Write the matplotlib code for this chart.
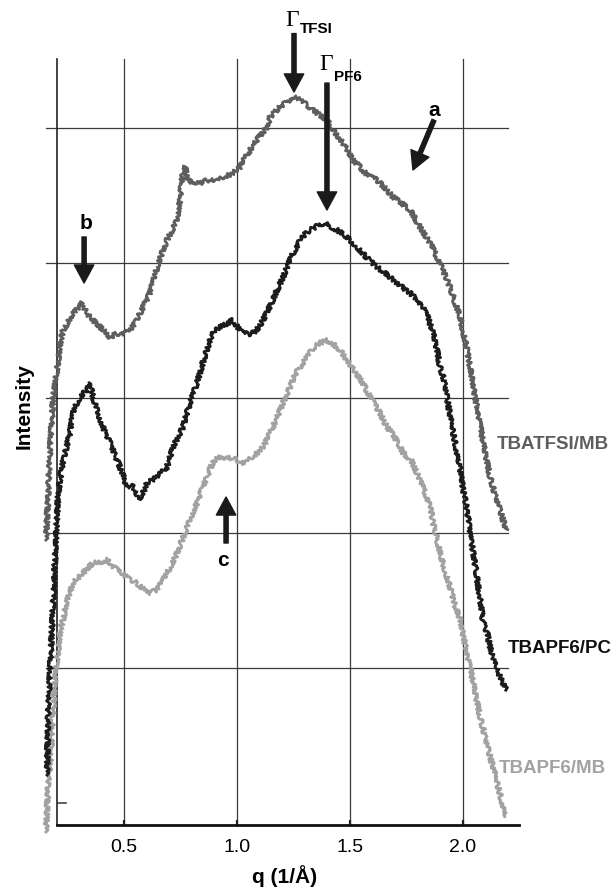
import numpy as np
import matplotlib.pyplot as plt

# ---------- data (intensity in grid units) ----------
q_tfsi_mb = [0.154, 0.163, 0.172, 0.185, 0.203, 0.216, 0.230, 0.252, 0.274, 0.296,
             0.314, 0.332, 0.349, 0.371, 0.394, 0.416, 0.438, 0.464, 0.491, 0.509,
             0.527, 0.549, 0.571, 0.593, 0.615, 0.637, 0.651, 0.673, 0.690, 0.713,
             0.735, 0.748, 0.761, 0.770, 0.783, 0.801, 0.819, 0.837, 0.859, 0.881,
             0.912, 0.947, 0.983, 1.014, 1.036, 1.058, 1.094, 1.134, 1.147, 1.169,
             1.191, 1.222, 1.249, 1.280, 1.311, 1.337, 1.368, 1.399, 1.426, 1.470,
             1.515, 1.546, 1.577, 1.621, 1.656, 1.692, 1.723, 1.767, 1.811, 1.856,
             1.900, 1.944, 1.989, 2.020, 2.033, 2.055, 2.078, 2.091, 2.122, 2.144,
             2.166, 2.193]
i_tfsi_mb = [1.948, 2.244, 2.615, 2.985, 3.207, 3.393, 3.504, 3.563, 3.630, 3.667,
             3.704, 3.637, 3.600, 3.563, 3.526, 3.489, 3.452, 3.474, 3.481, 3.481,
             3.504, 3.563, 3.630, 3.704, 3.778, 3.911, 4.000, 4.096, 4.170, 4.244,
             4.319, 4.467, 4.689, 4.711, 4.615, 4.593, 4.600, 4.593, 4.607, 4.615,
             4.615, 4.637, 4.667, 4.711, 4.778, 4.837, 4.926, 5.007, 5.081, 5.119,
             5.156, 5.193, 5.230, 5.207, 5.170, 5.133, 5.096, 5.059, 4.985, 4.889,
             4.763, 4.711, 4.652, 4.615, 4.556, 4.489, 4.452, 4.393, 4.267, 4.148,
             4.000, 3.822, 3.600, 3.356, 3.230, 3.007, 2.800, 2.667, 2.415, 2.281,
             2.170, 2.022]

q_pf6_pc = [0.159, 0.163, 0.172, 0.181, 0.194, 0.208, 0.230, 0.247, 0.261, 0.274,
            0.292, 0.305, 0.323, 0.336, 0.349, 0.363, 0.380, 0.394, 0.416, 0.438,
            0.460, 0.482, 0.500, 0.513, 0.527, 0.540, 0.557, 0.571, 0.589, 0.602,
            0.624, 0.646, 0.668, 0.690, 0.717, 0.739, 0.761, 0.792, 0.823, 0.850,
            0.867, 0.885, 0.903, 0.925, 0.952, 0.983, 1.005, 1.027, 1.049, 1.072,
            1.094, 1.116, 1.138, 1.160, 1.182, 1.204, 1.226, 1.249, 1.280, 1.302,
            1.324, 1.355, 1.382, 1.413, 1.444, 1.488, 1.532, 1.577, 1.621, 1.656,
            1.692, 1.732, 1.767, 1.798, 1.825, 1.847, 1.869, 1.887, 1.900, 1.918,
            1.931, 1.944, 1.958, 1.975, 1.989, 2.002, 2.020, 2.033, 2.047, 2.064,
            2.078, 2.091, 2.109, 2.122, 2.135, 2.153, 2.166, 2.179, 2.193]
i_pf6_pc = [0.207, 0.615, 0.985, 1.304, 1.800, 2.296, 2.541, 2.652, 2.741, 2.889,
            2.970, 3.007, 3.044, 3.059, 3.111, 3.007, 2.911, 2.837, 2.748, 2.667,
            2.578, 2.489, 2.407, 2.341, 2.356, 2.341, 2.281, 2.244, 2.319, 2.370,
            2.393, 2.415, 2.452, 2.489, 2.637, 2.711, 2.785, 2.963, 3.111, 3.267,
            3.356, 3.452, 3.504, 3.526, 3.548, 3.578, 3.519, 3.481, 3.474, 3.481,
            3.519, 3.578, 3.652, 3.726, 3.815, 3.896, 3.985, 4.074, 4.170, 4.215,
            4.244, 4.274, 4.296, 4.274, 4.244, 4.193, 4.119, 4.037, 3.970, 3.926,
            3.874, 3.822, 3.778, 3.726, 3.674, 3.593, 3.481, 3.356, 3.230, 3.133,
            3.007, 2.874, 2.741, 2.600, 2.467, 2.319, 2.170, 2.007, 1.852, 1.667,
            1.504, 1.341, 1.259, 1.156, 1.059, 1.000, 0.933, 0.889, 0.837]

q_pf6_mb = [0.154, 0.159, 0.163, 0.172, 0.181, 0.185, 0.194, 0.203, 0.216, 0.234,
            0.247, 0.261, 0.274, 0.296, 0.318, 0.340, 0.363, 0.394, 0.425, 0.447,
            0.469, 0.491, 0.513, 0.535, 0.557, 0.580, 0.602, 0.624, 0.646, 0.668,
            0.690, 0.713, 0.735, 0.757, 0.779, 0.801, 0.823, 0.845, 0.867, 0.894,
            0.916, 0.939, 0.961, 0.983, 1.005, 1.027, 1.049, 1.072, 1.094, 1.116,
            1.147, 1.178, 1.204, 1.235, 1.257, 1.280, 1.311, 1.337, 1.368, 1.399,
            1.426, 1.457, 1.488, 1.523, 1.555, 1.581, 1.612, 1.634, 1.665, 1.687,
            1.714, 1.736, 1.772, 1.798, 1.820, 1.842, 1.860, 1.869, 1.887, 1.900,
            1.922, 1.944, 1.966, 1.989, 2.011, 2.033, 2.055, 2.078, 2.100, 2.122,
            2.139, 2.153, 2.170, 2.188, 2.193]
i_pf6_mb = [-0.215, -0.052, 0.133, 0.267, 0.504, 0.637, 0.889, 1.059, 1.259, 1.393,
            1.504, 1.563, 1.630, 1.667, 1.704, 1.741, 1.778, 1.785, 1.800, 1.763,
            1.726, 1.704, 1.674, 1.652, 1.630, 1.593, 1.556, 1.563, 1.578, 1.637,
            1.704, 1.778, 1.852, 1.948, 2.044, 2.133, 2.222, 2.319, 2.415, 2.526,
            2.556, 2.563, 2.556, 2.556, 2.533, 2.519, 2.541, 2.563, 2.600, 2.637,
            2.741, 2.859, 2.963, 3.081, 3.170, 3.230, 3.304, 3.370, 3.407, 3.430,
            3.400, 3.356, 3.281, 3.193, 3.119, 3.037, 2.948, 2.889, 2.785, 2.741,
            2.667, 2.593, 2.541, 2.444, 2.356, 2.267, 2.170, 2.074, 1.963, 1.852,
            1.726, 1.600, 1.467, 1.356, 1.170, 1.007, 0.822, 0.637, 0.489, 0.341,
            0.244, 0.148, 0.037, -0.074, -0.096]

series_labels = ["TBATFSI/MB", "TBAPF6/PC", "TBAPF6/MB"]
xtick_vals = [0.5, 1.0, 1.5, 2.0]
xtick_labels = ["0.5", "1.0", "1.5", "2.0"]
grid_levels = [1, 2, 3, 4, 5]

# ---------- figure ----------
plt.rcParams['font.family'] = ['Liberation Sans', 'DejaVu Sans']
fig = plt.figure(figsize=(6.11, 8.88), dpi=100)
ax = fig.add_axes([0.0655, 0.0709, 0.784, 0.8626])
x0, x1 = 0.1278, 2.250
y0, y1 = -0.163, 5.511
ax.set_xlim(x0, x1)
ax.set_ylim(y0, y1)
for s in ax.spines.values():
    s.set_visible(False)
ax.set_yticks([])
ax.set_xticks(xtick_vals)
ax.set_xticklabels(xtick_labels, fontsize=14)
ax.tick_params(axis='x', length=0, pad=10)

# grid / frame
qa = 0.204
for g in grid_levels:
    ax.plot([0.155, 2.20], [g, g], color="#3a3a3a", lw=0.9, zorder=1, clip_on=False)
for xv in xtick_vals:
    ax.plot([xv, xv], [y0, y1], color="#3a3a3a", lw=0.9, zorder=1, clip_on=False)
    ax.plot([xv, xv], [y0, y0 + 0.03], color="#222222", lw=1.6, zorder=1, clip_on=False)
ax.plot([qa, qa], [y0, y1], color="#222222", lw=1.2, zorder=1, clip_on=False)
ax.plot([qa, 0.244], [0, 0], color="#444444", lw=1.2, zorder=1, clip_on=False)
ax.plot([qa, x1], [y0, y0], color="#111111", lw=2.0, zorder=6, clip_on=False)

# curves (sketch params give the noisy trace look)
curves = [(q_pf6_mb, i_pf6_mb, "#a2a2a2", 3),
          (q_tfsi_mb, i_tfsi_mb, "#5e5e5e", 4),
          (q_pf6_pc, i_pf6_pc, "#1c1c1c", 5)]
for qq, ii, col, z in curves:
    ln, = ax.plot(qq, ii, color=col, lw=2.0, zorder=z, clip_on=False)
    ln.set_sketch_params(scale=2.2, length=2.5, randomness=6)

# series labels
ax.text(2.153, 2.659, series_labels[0], color="#5e5e5e", fontsize=13.5,
        fontweight='bold', va='center', ha='left', clip_on=False)
ax.text(2.201, 1.148, series_labels[1], color="#111111", fontsize=13.5,
        fontweight='bold', va='center', ha='left', clip_on=False)
ax.text(2.161, 0.259, series_labels[2], color="#a2a2a2", fontsize=13.5,
        fontweight='bold', va='center', ha='left', clip_on=False)

# arrows
arw = dict(width=3.0, headwidth=14, headlength=13, color="#1a1a1a", shrink=0)
def arrow(xy_from, xy_to):
    ax.annotate("", xy=xy_to, xytext=xy_from, arrowprops=arw,
                annotation_clip=False, zorder=8)

arrow((1.253, 5.70), (1.253, 5.267))
arrow((1.399, 5.333), (1.399, 4.393))
arrow((1.873, 5.059), (1.780, 4.689))
arrow((0.323, 4.193), (0.323, 3.852))
arrow((0.952, 1.926), (0.952, 2.267))

# Gamma labels
ax.text(1.244, 5.80, "Γ", fontsize=17, family='Liberation Serif', ha='center',
        va='center', clip_on=False)
ax.text(1.350, 5.733, "TFSI", fontsize=11, fontweight='bold', ha='center',
        va='center', clip_on=False)
ax.text(1.395, 5.467, "Γ", fontsize=17, family='Liberation Serif', ha='center',
        va='center', clip_on=False)
ax.text(1.490, 5.378, "PF6", fontsize=11, fontweight='bold', ha='center',
        va='center', clip_on=False)

ax.text(1.875, 5.13, "a", fontsize=15, fontweight='bold', ha='center', va='center')
ax.text(0.332, 4.296, "b", fontsize=15, fontweight='bold', ha='center', va='center')
ax.text(0.939, 1.80, "c", fontsize=15, fontweight='bold', ha='center', va='center')

fig.text(0.039, 0.543, "Intensity", rotation=90, fontsize=15, fontweight='bold',
         ha='center', va='center')
fig.text(0.466, 0.0135, "q (1/Å)", fontsize=15, fontweight='bold',
         ha='center', va='center')

fig.savefig("out.png", dpi=100)
